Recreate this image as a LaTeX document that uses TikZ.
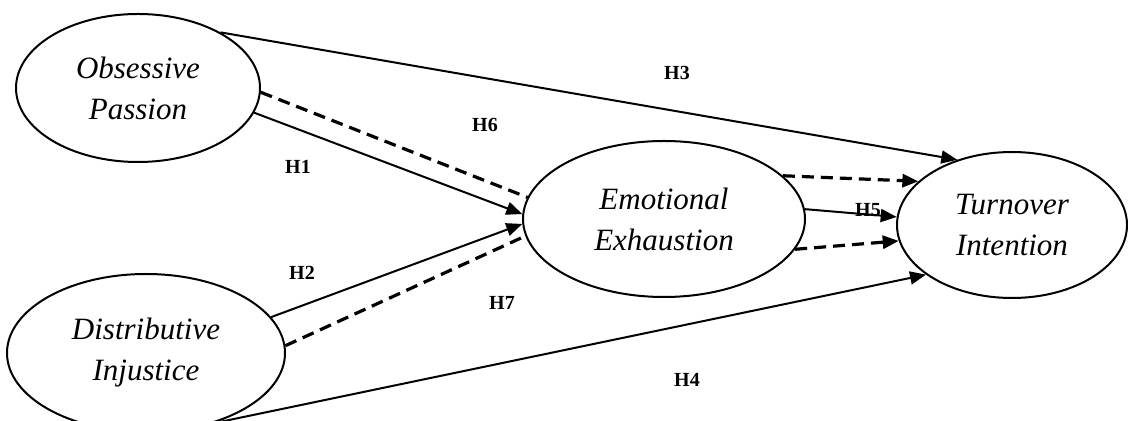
\documentclass[tikz,border=0pt]{standalone}
\usepackage{fontspec}
\setmainfont{Liberation Serif}
\usepackage{tikz}
\usetikzlibrary{arrows.meta,shapes.geometric}

\begin{document}
\begin{tikzpicture}[x=0.5pt,y=-0.5pt,
        construct/.style={draw, ellipse, line width=1pt, inner sep=0pt, align=center,
            font=\itshape\fontsize{15.5}{20.5}\selectfont},
        hyp/.style={font=\bfseries\fontsize{10}{12}\selectfont, inner sep=1pt},
        direct/.style={line width=1pt, -{Triangle[length=8pt,width=6.5pt]}},
        mediated/.style={line width=1.6pt, dash pattern=on 6pt off 3.5pt}
    ]
        \useasboundingbox (0,0) rectangle (1128,421);

        % constructs
        \node[construct, minimum width=122pt, minimum height=74pt] (op) at (138,88) {Obsessive\\Passion};
        \node[construct, minimum width=139pt, minimum height=79pt] (di) at (146,353) {Distributive\\Injustice};
        \node[construct, minimum width=141pt, minimum height=78pt] (ee) at (664,219) {Emotional\\Exhaustion};
        \node[construct, minimum width=115pt, minimum height=73pt] (ti) at (1012,225) {Turnover\\Intention};

        % hypothesis labels
        \node[hyp] (h1) at (298,167) {H1};
        \node[hyp] (h2) at (302,273) {H2};
        \node[hyp] (h3) at (677,73) {H3};
        \node[hyp] (h4) at (687,380) {H4};
        \node[hyp] (h5) at (868,210) {H5};
        \node[hyp] (h6) at (485,125) {H6};
        \node[hyp] (h7) at (502,303) {H7};

        % direct paths
        \draw[direct] (op.34.5) -- (ti.130.7);
        \draw[direct] (op.-12.5) -- (ee.178);
        \draw[direct] (di.16.6) -- (ee.182.4);
        \draw[direct] (di.-47.7) -- (ti.210.3);
        \draw[direct] (ee.4.8) -- (ti.176);

        % mediated paths
        \draw[mediated] (op.-2) -- (ee.171.4);
        \draw[mediated] (di.3.3) -- (ee.187);
        \draw[mediated, -{Triangle[length=8pt,width=6.5pt]}] (ee.20.5) -- (ti.155.6);
        \draw[mediated, -{Triangle[length=8pt,width=6.5pt]}] (ee.-13.5) -- (ti.188.6);
    \end{tikzpicture}
\end{document}
